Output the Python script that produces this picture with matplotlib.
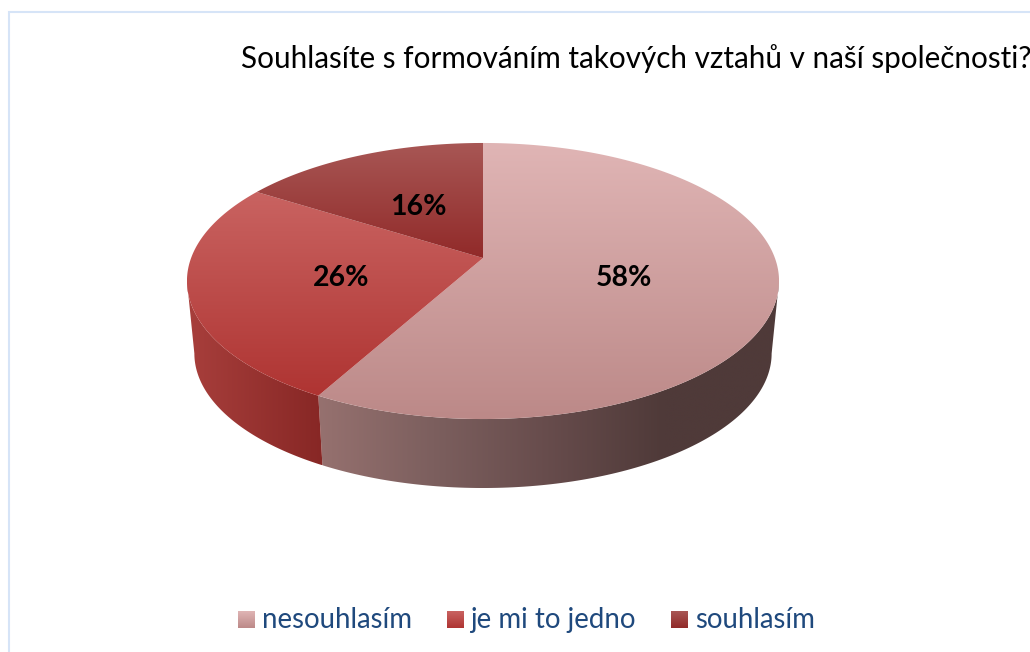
import numpy as np
import matplotlib
matplotlib.use("Agg")
import matplotlib.pyplot as plt
from matplotlib.colors import LinearSegmentedColormap
from matplotlib.patches import Polygon

# chart data
categories = ["nesouhlasím", "je mi to jedno", "souhlasím"]
values = [58, 26, 16]
title = "Souhlasíte s formováním takových vztahů v naší společnosti?"

# top surface colours (upper, lower), one pair per slice
top_colors = [("#E0B5B5", "#BC8988"), ("#C96361", "#AF3432"), ("#A85755", "#912A29")]

# pie geometry in pixels, a circle seen in perspective
apex_x, apex_y = 483, 258
a, b, k = 291.9, 134.2, 1 / 6
depth = 73
bottom_scale = 0.975


def rim(theta, frac=1.0, bottom=False):
    # theta in degrees, clockwise from 12 o'clock
    t = np.radians(theta)
    u, v = frac * np.sin(t), frac * np.cos(t)
    s = bottom_scale if bottom else 1.0
    x = apex_x + s * a * u / (1 + k * v)
    y = apex_y - s * b * v / (1 + k * v) + (depth if bottom else 0)
    return x, y


def gradient_fill(ax, xy, colors, horizontal=False, extent=None):
    # polygon filled with a gradient through an image clipped to it
    patch = Polygon(xy, closed=True, facecolor="none", edgecolor="none")
    ax.add_patch(patch)
    cmap = LinearSegmentedColormap.from_list("g", colors)
    grad = np.linspace(0, 1, 256)
    grad = grad.reshape(1, -1) if horizontal else grad.reshape(-1, 1)
    if extent is None:
        extent = (xy[:, 0].min(), xy[:, 0].max(), xy[:, 1].max(), xy[:, 1].min())
    im = ax.imshow(grad, cmap=cmap, extent=extent, aspect="auto", origin="upper",
                   interpolation="bilinear")
    im.set_clip_path(patch)


fig = plt.figure(figsize=(10.3, 6.52), dpi=100)
ax = fig.add_axes([0, 0, 1, 1])

# frame of the chart, its right and bottom sides are cut off
ax.plot([9.3, 9.3, 1040], [660, 12.3, 12.3], color="#D6E4F7", lw=1.5, solid_joinstyle="miter")

# slice angles
edges = np.cumsum([0] + values) / sum(values) * 360

# side walls, only the front part is visible
tan_angle = np.degrees(np.arcsin(k))
wall_right = 90 + tan_angle
wall_left = 270 - tan_angle
walls = [
    (wall_right, edges[1], ["#96716F", "#7C5F5E", "#674C4C", "#4F3A39", "#4F3A39"]),
    (edges[1], wall_left, ["#A83F3C", "#872725"]),
]
for start, end, cols in walls:
    th = np.linspace(start, end, 120)
    xt, yt = rim(th)
    xb, yb = rim(th, bottom=True)
    xy = np.column_stack([np.r_[xt, xb[::-1]], np.r_[yt, yb[::-1]]])
    gradient_fill(ax, xy, cols, horizontal=True)

# top surfaces
for i in range(len(values)):
    th = np.linspace(edges[i], edges[i + 1], 200)
    x, y = rim(th)
    xy = np.column_stack([np.r_[apex_x, x], np.r_[apex_y, y]])
    gradient_fill(ax, xy, top_colors[i])

# percentages
for i, v in enumerate(values):
    lx, ly = rim((edges[i] + edges[i + 1]) / 2, frac=0.49)
    ax.text(lx, ly + 3, f"{v}%", ha="center", va="center", fontsize=20.5, fontweight="bold",
            family="Lato", color="black")

ax.text(241, 68, title, ha="left", va="baseline", fontsize=21.3, family="Lato", color="black")

# legend
swatch_x = [238, 447, 671]
label_x = [262, 470, 695]
for x0, tx, name, cols in zip(swatch_x, label_x, categories, top_colors):
    box = np.array([[x0, 611], [x0 + 17, 611], [x0 + 17, 628], [x0, 628]], dtype=float)
    gradient_fill(ax, box, cols)
    ax.text(tx, 628, name, ha="left", va="baseline", fontsize=19.9, family="Lato",
            color="#1F497D")

ax.set_xlim(0, 1030)
ax.set_ylim(652, 0)
ax.axis("off")
fig.savefig("out.png", dpi=100)
